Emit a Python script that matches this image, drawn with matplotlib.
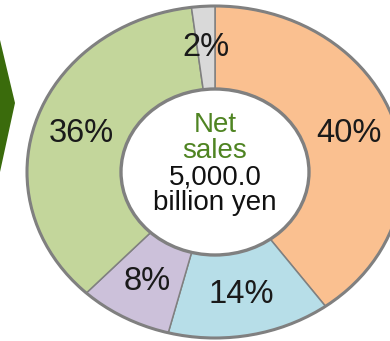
import matplotlib
matplotlib.use("Agg")
import matplotlib.pyplot as plt
from matplotlib.patches import Circle, Polygon

plt.rcParams["font.family"] = ["Liberation Sans", "DejaVu Sans"]

# segment shares of net sales, clockwise from 12 o'clock
shares = [40, 14, 8, 36, 2]
colors = ["#FAC090", "#B7DEE8", "#CCC1DA", "#C3D69B", "#D9D9D9"]
center_title = ["Net", "sales"]
center_value = ["5,000.0", "billion yen"]

EDGE = "#808080"
GREEN = "#4F8422"

fig = plt.figure(figsize=(3.9, 3.41), dpi=100)

# pixel-space background layer (arrow + centre text positions)
bg = fig.add_axes([0, 0, 1, 1])
bg.set_xlim(0, 390)
bg.set_ylim(341, 0)
bg.axis("off")
bg.add_patch(Polygon([(0, 40), (15, 103), (0, 172)], closed=True,
                     fc="#3A6B0C", ec="none"))

# donut, slightly wider than tall
ax = fig.add_axes([27 / 390, 3 / 341, 376 / 390, 332 / 341])
wedges, texts, autotexts = ax.pie(
    shares, colors=colors, startangle=90, counterclock=False, radius=1,
    wedgeprops=dict(width=0.5, edgecolor=EDGE, linewidth=1.1),
    autopct=lambda p: f"{p:.0f}%", pctdistance=0.75,
    textprops=dict(fontsize=23.5, color="#1A1A1A"))
for w in wedges:
    w.set_clip_on(False)
ax.add_patch(Circle((0, 0), 1, fill=False, ec=EDGE, lw=2.2, clip_on=False))
ax.add_patch(Circle((0, 0), 0.5, fc="white", ec=EDGE, lw=2.4, clip_on=False))
ax.set_aspect("auto")
ax.set_xlim(-1, 1)
ax.set_ylim(-1, 1)
ax.axis("off")

# centre caption
for txt, y, c in [(center_title[0], 132, GREEN), (center_title[1], 158, GREEN),
                  (center_value[0], 185, "#111111"), (center_value[1], 210, "#111111")]:
    ax.text(215, y, txt, transform=bg.transData, ha="center", va="baseline",
            fontsize=20, color=c, zorder=5)

fig.savefig("out.png", dpi=100)
